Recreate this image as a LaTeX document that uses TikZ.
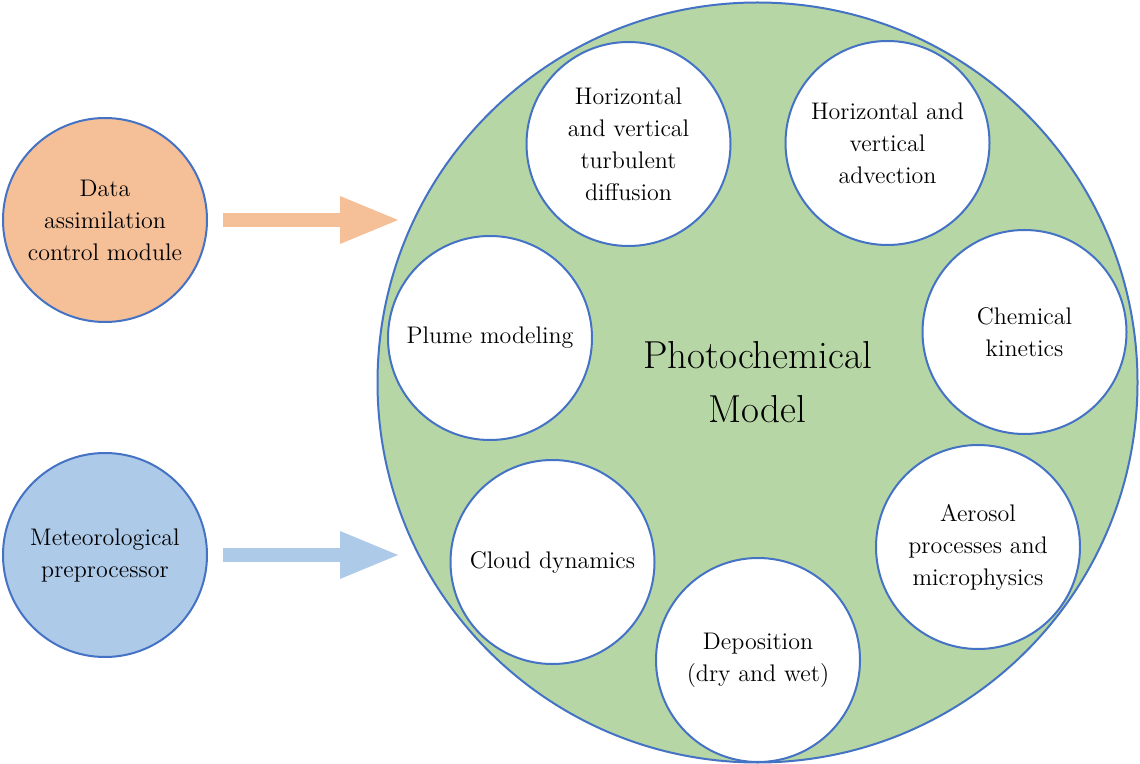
\documentclass[tikz,border=0pt]{standalone}
\usepackage{tikz}
\usetikzlibrary{arrows.meta,positioning,calc}

\definecolor{outline}{HTML}{4472C4}
\definecolor{datafill}{HTML}{F5BF98}
\definecolor{metfill}{HTML}{AECAE9}
\definecolor{modelfill}{HTML}{B7D6A5}

\begin{document}
\begin{tikzpicture}[x=0.5pt,y=-0.5pt,
  process/.style={circle,draw=outline,line width=1pt,fill=white,minimum size=102pt,
    inner sep=0pt,align=center,font=\fontsize{12}{16}\selectfont},
  feed/.style={line width=7pt,-{Triangle[length=29pt,width=24pt,line width=0pt]},shorten <=7.5pt}]
% Fix the page size
\useasboundingbox (0,0) rectangle (1140,764);

% Input modules
\node[process,fill=datafill] (data) at (105,220) {Data\\assimilation\\control module};
\node[process,fill=metfill] (met) at (105,555) {Meteorological\\preprocessor};

% The model itself
\node[circle,draw=outline,line width=1pt,fill=modelfill,minimum size=380pt,inner sep=0pt,
  align=center,font=\fontsize{19.5}{27}\selectfont] (model) at (757.5,382.5) {Photochemical\\Model};

% Processes inside the model
\node[process] (diffusion) at (628.5,144) {Horizontal\\and vertical\\turbulent\\diffusion};
\node[process] (advection) at (887.5,143) {Horizontal and\\vertical\\advection};
\node[process] (kinetics) at (1024.5,332) {Chemical\\kinetics};
\node[process] (aerosol) at (978,547) {Aerosol\\processes and\\microphysics};
\node[process] (deposition) at (758,660) {Deposition\\(dry and wet)};
\node[process] (cloud) at (552.5,562) {Cloud dynamics};
\node[process] (plume) at (490,338) {Plume modeling};

% Arrow tips in front of the model
\coordinate (dataTip) at (398,220);
\coordinate (metTip) at (398,555);

% Draw inputs
\draw[feed,datafill] (data.east) -- (dataTip);
\draw[feed,metfill] (met.east) -- (metTip);

\end{tikzpicture}
\end{document}
